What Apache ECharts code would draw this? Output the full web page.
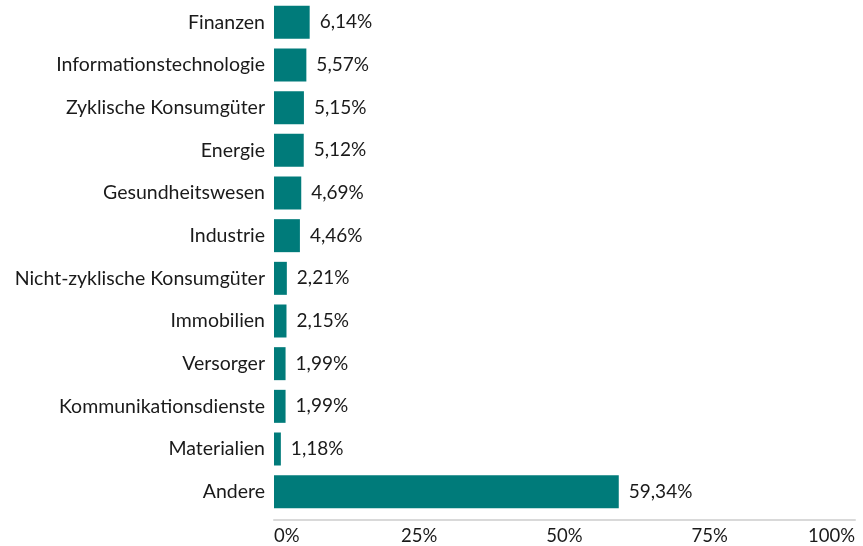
<!DOCTYPE html>
<html>
<head>
<meta charset="utf-8">
<script src="https://cdn.jsdelivr.net/npm/echarts@6/dist/echarts.min.js"></script>
<style>
  html, body { margin: 0; padding: 0; background: #fff; }
  #chart { width: 863px; height: 546px; }
</style>
</head>
<body>
<div id="chart"></div>
<script>
// sectors, top to bottom as in the picture
const categories = [
  'Finanzen', 'Informationstechnologie', 'Zyklische Konsumgüter', 'Energie',
  'Gesundheitswesen', 'Industrie', 'Nicht-zyklische Konsumgüter', 'Immobilien',
  'Versorger', 'Kommunikationsdienste', 'Materialien', 'Andere'
]
const weights = [6.14, 5.57, 5.15, 5.12, 4.69, 4.46, 2.21, 2.15, 1.99, 1.99, 1.18, 59.34]
const xTicks = [0, 25, 50, 75, 100]

const font = 'Lato, "Open Sans", sans-serif'
const myChart = echarts.init(document.getElementById('chart'))

const option = {
  animation: false,
  grid: { left: 274, right: 8, top: 1, bottom: 32, containLabel: false },
  xAxis: {
    type: 'value',
    min: xTicks[0],
    max: xTicks[xTicks.length - 1],
    interval: 25,
    offset: 7,
    axisLine: { show: true, lineStyle: { color: '#d9d9d9', width: 2 } },
    axisTick: { show: false },
    splitLine: { show: false },
    axisLabel: {
      formatter: v => v + '%',
      color: '#1a1a1a',
      fontSize: 18.5,
      fontFamily: font,
      margin: 7,
      alignMinLabel: 'left',
      alignMaxLabel: 'right'
    }
  },
  yAxis: {
    type: 'category',
    inverse: true,
    data: categories,
    axisLine: { show: false },
    axisTick: { show: false },
    axisLabel: { color: '#1a1a1a', fontSize: 19.5, fontFamily: font, margin: 9 }
  },
  series: [{
    type: 'bar',
    data: weights,
    barWidth: 33,
    itemStyle: { color: '#007b7a' },
    label: {
      show: true,
      position: 'right',
      distance: 10,
      color: '#1a1a1a',
      fontSize: 19,
      fontFamily: font,
      formatter: p => p.value.toFixed(2).replace('.', ',') + '%'
    }
  }]
}

myChart.setOption(option)
window.addEventListener('resize', () => myChart.resize())
</script>
</body>
</html>
